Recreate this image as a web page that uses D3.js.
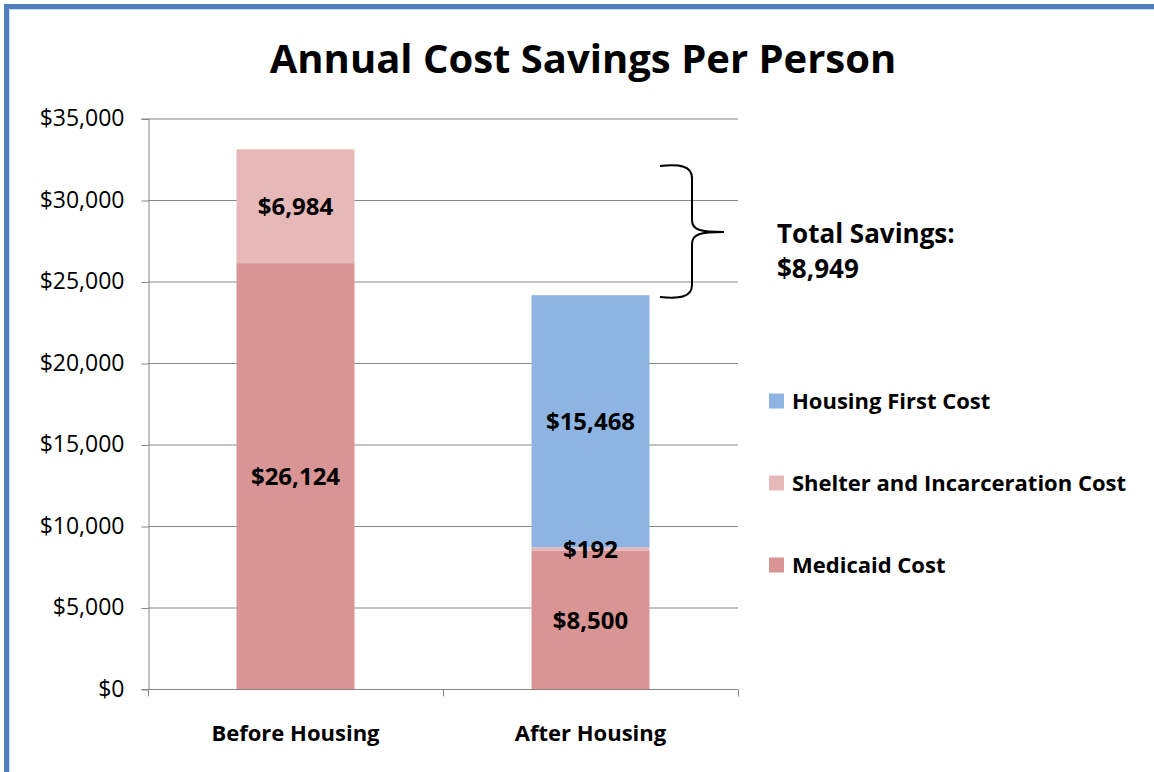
<!DOCTYPE html>
<html>
<head>
<meta charset="utf-8">
<script src="https://cdn.jsdelivr.net/npm/d3@7"></script>
<style>
  body { margin: 0; background: #fff; }
  svg { display: block; font-family: "Open Sans", sans-serif; }
</style>
</head>
<body>
<svg id="chart"></svg>
<script>
// data
const categories = ['Before Housing', 'After Housing'];
const seriesNames = ['Medicaid Cost', 'Shelter and Incarceration Cost', 'Housing First Cost'];
const medicaid = [26124, 8500];
const shelter = [6984, 192];
const housingFirst = [0, 15468];
const yTicks = [0, 5000, 10000, 15000, 20000, 25000, 30000, 35000];
const savingsLabel = ['Total Savings:', '$8,949'];

const colors = {
  'Medicaid Cost': '#d99594',
  'Shelter and Incarceration Cost': '#e6b9b8',
  'Housing First Cost': '#8eb4e3'
};

const width = 1154, height = 772;
const margin = { top: 118.5, left: 148, right: 416, bottom: 83 };
const innerW = width - margin.left - margin.right;
const innerH = height - margin.top - margin.bottom;

const svg = d3.select('#chart')
  .attr('width', width)
  .attr('height', height);

// frame (only left and top edges show)
svg.append('rect')
  .attr('x', 6.5).attr('y', 6.5)
  .attr('width', width + 20).attr('height', height + 20)
  .attr('fill', 'none')
  .attr('stroke', '#4f81bd')
  .attr('stroke-width', 5);
svg.append('path')
  .attr('d', `M9.5,${height} V9.5 H${width}`)
  .attr('fill', 'none')
  .attr('stroke', '#c6d9f1')
  .attr('stroke-width', 1);

// title
svg.append('text')
  .attr('x', 583).attr('y', 73)
  .attr('text-anchor', 'middle')
  .attr('font-size', '40px')
  .attr('font-weight', 'bold')
  .text('Annual Cost Savings Per Person');

const chart = svg.append('g')
  .attr('transform', `translate(${margin.left},${margin.top})`);

const x = d3.scaleBand()
  .domain(categories)
  .range([0, innerW])
  .paddingInner(0.6)
  .paddingOuter(0.3);

const y = d3.scaleLinear()
  .domain([0, 35000])
  .range([innerH, 0]);

// gridlines
chart.append('g')
  .selectAll('line')
  .data(yTicks)
  .join('line')
  .attr('x1', 0).attr('x2', innerW)
  .attr('y1', d => y(d) + 0.5).attr('y2', d => y(d) + 0.5)
  .attr('stroke', '#868686')
  .attr('stroke-width', 1);

// y axis
const yAxis = chart.append('g')
  .attr('transform', 'translate(0.5,0)')
  .call(d3.axisLeft(y).tickValues(yTicks).tickSize(7).tickPadding(17)
    .tickFormat(d => '$' + d3.format(',')(d)));
yAxis.select('.domain').attr('stroke', '#868686');
yAxis.selectAll('.tick line').attr('stroke', '#868686').attr('transform', 'translate(0,0.5)');
yAxis.selectAll('.tick text')
  .attr('font-size', '23px')
  .attr('fill', '#000')
  .attr('font-family', '"Open Sans", sans-serif');

// x axis
const xAxisG = chart.append('g')
  .attr('transform', `translate(0,${innerH + 0.5})`);
xAxisG.append('line')
  .attr('x1', 0).attr('x2', innerW)
  .attr('stroke', '#868686');
xAxisG.selectAll('.sep')
  .data([0, 1, 2])
  .join('line')
  .attr('class', 'sep')
  .attr('x1', (d, i) => Math.round(i * innerW / 2) + 0.5)
  .attr('x2', (d, i) => Math.round(i * innerW / 2) + 0.5)
  .attr('y1', 0).attr('y2', 7)
  .attr('stroke', '#868686');
xAxisG.selectAll('.cat')
  .data(categories)
  .join('text')
  .attr('class', 'cat')
  .attr('x', d => x(d) + x.bandwidth() / 2)
  .attr('y', 51)
  .attr('text-anchor', 'middle')
  .attr('font-size', '22px')
  .attr('font-weight', 'bold')
  .text(d => d);

// stacked bars
const rows = categories.map((c, i) => ({
  category: c,
  'Medicaid Cost': medicaid[i],
  'Shelter and Incarceration Cost': shelter[i],
  'Housing First Cost': housingFirst[i]
}));
const stack = d3.stack().keys(seriesNames)(rows);

const layers = chart.append('g')
  .selectAll('g')
  .data(stack)
  .join('g')
  .attr('fill', d => colors[d.key]);

layers.selectAll('rect')
  .data(d => d.filter(s => s[1] - s[0] > 0))
  .join('rect')
  .attr('x', d => x(d.data.category))
  .attr('width', x.bandwidth())
  .attr('y', d => y(d[1]))
  .attr('height', d => y(d[0]) - y(d[1]));

// value labels
const labels = [];
stack.forEach(layer => layer.forEach(s => {
  const v = s[1] - s[0];
  if (v > 0) labels.push({ cat: s.data.category, mid: (s[0] + s[1]) / 2, v });
}));
chart.append('g')
  .selectAll('text')
  .data(labels)
  .join('text')
  .attr('x', d => x(d.cat) + x.bandwidth() / 2)
  .attr('y', d => y(d.mid))
  .attr('dy', '0.38em')
  .attr('text-anchor', 'middle')
  .attr('font-size', '24px')
  .attr('font-weight', 'bold')
  .text(d => '$' + d3.format(',')(d.v));

// savings brace
const bx = 692, bTop = 166, bBot = 297, bMid = 232;
svg.append('path')
  .attr('d', `M660,${bTop} C680,${bTop - 2} 692,${bTop} ${bx},${bTop + 12}
    V${bMid - 12} C${bx},${bMid - 2} 700,${bMid} 724,${bMid}
    C700,${bMid} ${bx},${bMid + 2} ${bx},${bMid + 12}
    V${bBot - 12} C${bx},${bBot} 680,${bBot + 2} 660,${bBot}`)
  .attr('fill', 'none')
  .attr('stroke', '#000')
  .attr('stroke-width', 2);

svg.append('g')
  .selectAll('text')
  .data(savingsLabel)
  .join('text')
  .attr('x', 777)
  .attr('y', (d, i) => 243 + i * 35)
  .attr('font-size', '26px')
  .attr('font-weight', 'bold')
  .text(d => d);

// legend
const legendItems = ['Housing First Cost', 'Shelter and Incarceration Cost', 'Medicaid Cost'];
const legend = svg.append('g')
  .selectAll('g')
  .data(legendItems)
  .join('g')
  .attr('transform', (d, i) => `translate(769,${401 + i * 82})`);
legend.append('rect')
  .attr('x', 0).attr('y', -7.5)
  .attr('width', 15).attr('height', 15)
  .attr('fill', d => colors[d]);
legend.append('text')
  .attr('x', 23)
  .attr('dy', '0.36em')
  .attr('font-size', '22px')
  .attr('font-weight', 'bold')
  .text(d => d);
</script>
</body>
</html>
